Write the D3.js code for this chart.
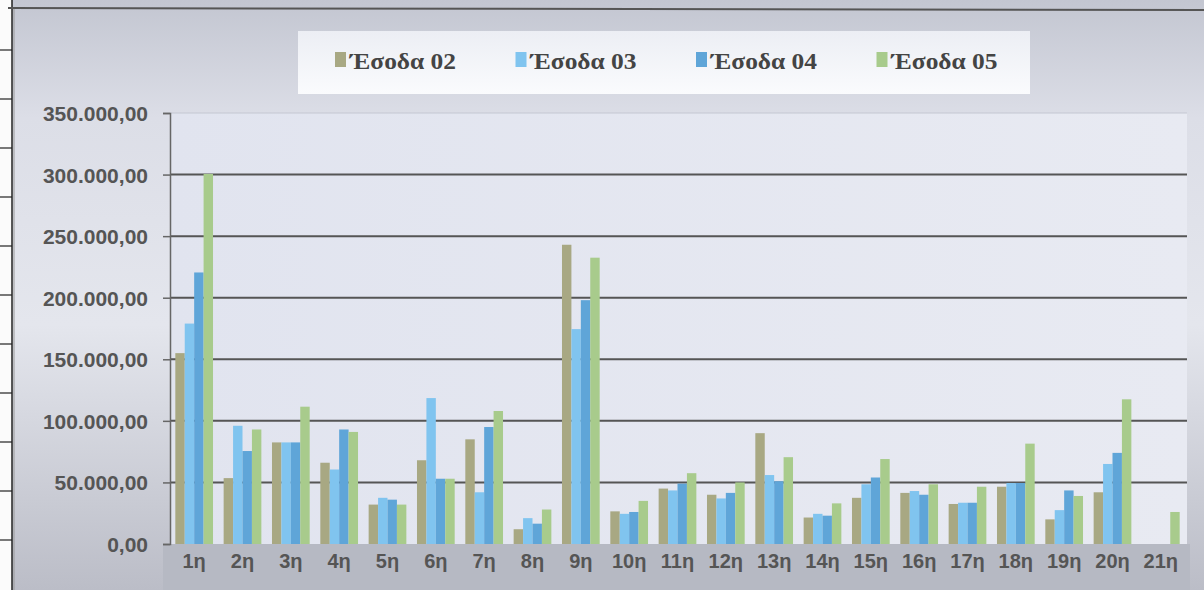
<!DOCTYPE html>
<html lang="el">
<head>
	<meta charset="utf-8">
	<title>Έσοδα</title>
	<script src="https://d3js.org/d3.v7.min.js"></script>
	<style>
	body { margin: 0; background: #fff; }
	.grid line { stroke: #555; stroke-width: 2px; }
	.yaxis text, .xlab { font-family: "Liberation Sans", Arial, sans-serif; font-weight: bold; fill: #555; }
	.legend text { font-family: "Liberation Serif", "Times New Roman", serif; font-weight: bold; fill: #444; }
	</style>
</head>
<body>
<script>
	// categories and the four series
	var categories = ["1η","2η","3η","4η","5η","6η","7η","8η","9η","10η","11η","12η","13η","14η","15η","16η","17η","18η","19η","20η","21η"];
	var seriesNames = ["Έσοδα 02", "Έσοδα 03", "Έσοδα 04", "Έσοδα 05"];
	var esoda02 = [155000, 53500, 82500, 66000, 32000, 68000, 85000, 12000, 243000, 26500, 45000, 40000, 90000, 21500, 37500, 41500, 32500, 46500, 20000, 42000, null];
	var esoda03 = [179000, 96000, 82500, 60500, 37500, 118500, 42000, 21000, 174500, 24500, 43500, 37000, 56000, 24500, 48500, 43000, 33500, 49500, 27500, 65000, null];
	var esoda04 = [220500, 75500, 82500, 93000, 36000, 53000, 95000, 16500, 198000, 26000, 49000, 41500, 51000, 23000, 54000, 40000, 33500, 49500, 43500, 74000, null];
	var esoda05 = [300500, 93000, 111500, 91000, 32000, 53000, 108000, 28000, 232500, 35000, 57500, 50000, 70500, 33000, 69000, 48500, 46500, 81500, 39000, 117500, 26000];
	var yTicks = [0, 50000, 100000, 150000, 200000, 250000, 300000, 350000];
	var colors = ["#a8a883", "#80c4ef", "#5fa5d8", "#a8cb8c"];

	var allSeries = [esoda02, esoda03, esoda04, esoda05];

	var w = 1204;
	var h = 590;

	var svg = d3.select("body")
				.append("svg")
				.attr("width", w)
				.attr("height", h);

	var defs = svg.append("defs");

	var bgGrad = defs.append("linearGradient")
		.attr("id", "bg")
		.attr("x1", 0).attr("y1", 0).attr("x2", 0).attr("y2", 1);
	bgGrad.append("stop").attr("offset", "0%").attr("stop-color", "#c3c6d1");
	bgGrad.append("stop").attr("offset", "20%").attr("stop-color", "#dcdee7");
	bgGrad.append("stop").attr("offset", "55%").attr("stop-color", "#e4e6ed");
	bgGrad.append("stop").attr("offset", "100%").attr("stop-color", "#bbbdc7");

	var plotGrad = defs.append("linearGradient")
		.attr("id", "plotbg")
		.attr("x1", 0).attr("y1", 0).attr("x2", 1).attr("y2", 0);
	plotGrad.append("stop").attr("offset", "0%").attr("stop-color", "#e1e4ef");
	plotGrad.append("stop").attr("offset", "100%").attr("stop-color", "#e8eaf2");

	var legGrad = defs.append("linearGradient")
		.attr("id", "legbg")
		.attr("x1", 0).attr("y1", 0).attr("x2", 0).attr("y2", 1);
	legGrad.append("stop").attr("offset", "0%").attr("stop-color", "#eceef4");
	legGrad.append("stop").attr("offset", "100%").attr("stop-color", "#fafbfd");

	// chart background
	svg.append("rect")
		.attr("x", 0).attr("y", 0)
		.attr("width", w).attr("height", h)
		.attr("fill", "url(#bg)");

	// scanned page edge on the left
	svg.append("rect")
		.attr("x", 0).attr("y", 0)
		.attr("width", 12).attr("height", h)
		.attr("fill", "#fbfbfb");
	svg.append("line")
		.attr("x1", 12).attr("x2", 12).attr("y1", 0).attr("y2", h)
		.attr("stroke", "#222").attr("stroke-width", 1.5);
	svg.append("line")
		.attr("x1", 14).attr("x2", 14).attr("y1", 8).attr("y2", h)
		.attr("stroke", "#999").attr("stroke-width", 1);
	svg.append("g")
		.selectAll("line")
		.data(d3.range(50, 560, 49))
		.enter().append("line")
		.attr("x1", 0).attr("x2", 12)
		.attr("y1", function(d) { return d; })
		.attr("y2", function(d) { return d; })
		.attr("stroke", "#222").attr("stroke-width", 1.2);

	// top border line
	svg.append("line")
		.attr("x1", 8).attr("x2", w).attr("y1", 8).attr("y2", 10)
		.attr("stroke", "#555").attr("stroke-width", 2);

	// scales
	var x0 = d3.scaleBand()
			   .domain(categories)
			   .range([170, 1185])
			   .paddingInner(0.22)
			   .paddingOuter(0.11);

	var x1 = d3.scaleBand()
			   .domain(d3.range(seriesNames.length))
			   .range([0, x0.bandwidth()]);

	var y = d3.scaleLinear()
			  .domain([0, 350000])
			  .range([544, 113]);

	// plot area
	svg.append("rect")
		.attr("x", 170).attr("y", y(350000))
		.attr("width", 1187 - 170).attr("height", y(0) - y(350000))
		.attr("fill", "url(#plotbg)");

	// band below the plot holding the category labels
	svg.append("rect")
		.attr("x", 163).attr("y", y(0))
		.attr("width", 1190 - 163).attr("height", h - y(0))
		.attr("fill", "#b6b9c3");

	// gridlines
	svg.append("g")
		.attr("class", "grid")
		.selectAll("line")
		.data(yTicks.filter(function(d) { return d > 0; }))
		.enter().append("line")
		.attr("x1", 170).attr("x2", 1187)
		.attr("y1", function(d) { return y(d); })
		.attr("y2", function(d) { return y(d); })
		.style("stroke", function(d) { return d === 350000 ? "#c4c7d2" : null; })
		.style("stroke-width", function(d) { return d === 350000 ? "1px" : null; });

	// bars
	var groups = svg.append("g")
		.selectAll("g")
		.data(categories)
		.enter().append("g")
		.attr("transform", function(d) { return "translate(" + x0(d) + ",0)"; });

	groups.selectAll("rect")
		.data(function(d, i) {
			return allSeries.map(function(s, k) { return { k: k, v: s[i] }; })
							.filter(function(e) { return e.v !== null; });
		})
		.enter().append("rect")
		.attr("x", function(d) { return x1(d.k); })
		.attr("width", x1.bandwidth())
		.attr("y", function(d) { return y(d.v); })
		.attr("height", function(d) { return y(0) - y(d.v); })
		.attr("fill", function(d) { return colors[d.k]; });

	// y axis
	var fmt = function(d) {
		return d3.format(",.2f")(d).replace(/,/g, "#").replace(".", ",").replace(/#/g, ".");
	};

	var yAxis = svg.append("g")
		.attr("class", "yaxis")
		.attr("transform", "translate(170,0)")
		.call(d3.axisLeft(y).tickValues(yTicks).tickFormat(fmt).tickSize(7).tickPadding(15));

	yAxis.select(".domain").attr("stroke", "#666").attr("stroke-width", 1.5);
	yAxis.selectAll(".tick line").attr("stroke", "#666").attr("stroke-width", 1.5);
	yAxis.selectAll("text").style("font-size", "21px").attr("dy", "0.36em");

	// category labels
	svg.append("g")
		.selectAll("text")
		.data(categories)
		.enter().append("text")
		.attr("class", "xlab")
		.attr("x", function(d) { return x0(d) + x0.bandwidth() / 2; })
		.attr("y", 568)
		.attr("text-anchor", "middle")
		.style("font-size", "20px")
		.text(function(d) { return d; });

	// legend
	var legend = svg.append("g").attr("class", "legend");

	legend.append("rect")
		.attr("x", 298).attr("y", 31)
		.attr("width", 732).attr("height", 63)
		.attr("fill", "url(#legbg)");

	var items = legend.selectAll("g")
		.data(seriesNames)
		.enter().append("g")
		.attr("transform", function(d, i) { return "translate(" + (335 + i * 180.5) + ",0)"; });

	items.append("rect")
		.attr("x", 0).attr("y", 52)
		.attr("width", 11).attr("height", 15)
		.attr("fill", function(d, i) { return colors[i]; });

	items.append("text")
		.attr("x", 15).attr("y", 69)
		.style("font-size", "24px")
		.attr("textLength", 106)
		.attr("lengthAdjust", "spacingAndGlyphs")
		.text(function(d) { return d; });

</script>
</body>
</html>
